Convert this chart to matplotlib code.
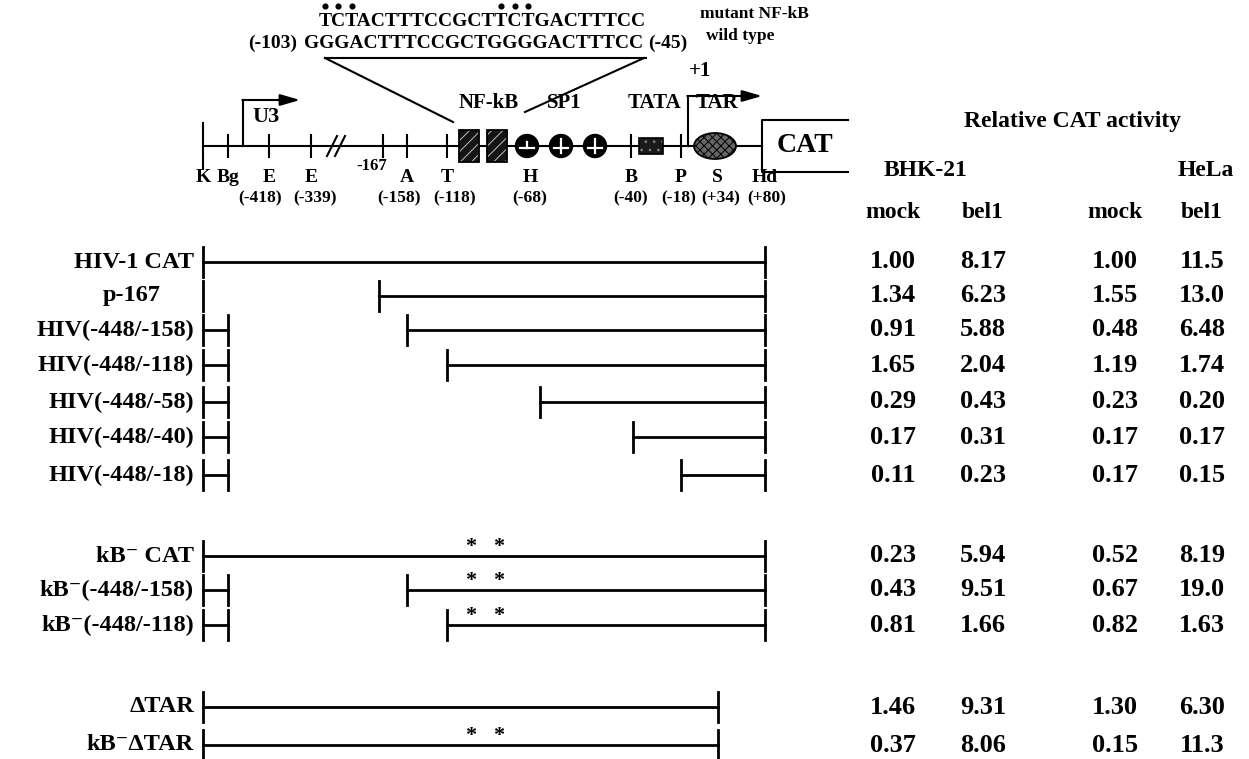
import numpy as np
import matplotlib
matplotlib.use('Agg')
import matplotlib.pyplot as plt
from matplotlib.patches import Rectangle, Circle, Ellipse

plt.rcParams['hatch.linewidth'] = 0.7

# ------------------------------------------------------------------ data
constructs = ['HIV-1 CAT', 'p-167', 'HIV(-448/-158)', 'HIV(-448/-118)',
              'HIV(-448/-58)', 'HIV(-448/-40)', 'HIV(-448/-18)',
              'kB\u207b CAT', 'kB\u207b(-448/-158)', 'kB\u207b(-448/-118)',
              '\u0394TAR', 'kB\u207b\u0394TAR']
# schematic map coordinates (map units along the LTR drawing)
seg_start = [203, 379, 407, 447, 540, 633, 681, 203, 407, 447, 203, 203]
seg_end = [765, 765, 765, 765, 765, 765, 765, 765, 765, 765, 718, 718]
left_piece_end = [None, 203, 228, 228, 228, 228, 228, None, 228, 228, None, None]
kb_mutant = [False] * 7 + [True, True, True, False, True]

bhk_mock = [1.00, 1.34, 0.91, 1.65, 0.29, 0.17, 0.11, 0.23, 0.43, 0.81, 1.46, 0.37]
bhk_bel1 = [8.17, 6.23, 5.88, 2.04, 0.43, 0.31, 0.23, 5.94, 9.51, 1.66, 9.31, 8.06]
hela_mock = [1.00, 1.55, 0.48, 1.19, 0.23, 0.17, 0.17, 0.52, 0.67, 0.82, 1.30, 0.15]
hela_bel1 = [11.5, 13.0, 6.48, 1.74, 0.20, 0.17, 0.15, 8.19, 19.0, 1.63, 6.30, 11.3]

site_labels = ['K', 'Bg', 'E', 'E', 'A', 'T', 'H', 'B', 'P', 'S', 'Hd']
site_coords = ['', '', '(-418)', '(-339)', '(-158)', '(-118)', '(-68)',
               '(-40)', '(-18)', '(+34)', '(+80)']
site_x = [203, 228, 269, 311, 407, 447, 530, 631, 681, 717, 765]
tick_x = [228, 269, 311, 383, 407, 447, 631, 681]
nfkb_x = [469, 497]
sp1_x = [527, 561, 595]
tata_x = 651
tar_x = 715

wt_seq = 'GGGACTTTCCGCTGGGGACTTTCC'
mut_seq = 'TCTACTTTCCGCTTCTGACTTTCC'

# ------------------------------------------------------------------ layout
row_y = [262, 296, 330, 365, 402, 437, 475, 556, 590, 625, 707, 745]
coord_x = [203, 228, 260, 315, 399, 455, 530, 631, 679, 721, 767]
base_y = 146
col_x = [893, 983, 1115, 1202]
SERIF = ['Liberation Serif', 'DejaVu Serif']

fig = plt.figure(figsize=(12.49, 7.59), dpi=100)
ax = fig.add_axes([0, 0, 1, 1])
ax.set_xlim(0, 1249)
ax.set_ylim(759, 0)
ax.axis('off')


def T(x, y, s, size, weight='bold', ha='center', va='center', **kw):
    return ax.text(x, y, s, fontsize=size, fontweight=weight, ha=ha, va=va,
                   family=SERIF, color='black', **kw)


# ---------------------------------------------------------- map (top)
lw_map = 1.5
ax.plot([site_x[0], 762], [base_y, base_y], color='k', lw=lw_map)
ax.plot([site_x[0], site_x[0]], [base_y - 23, base_y + 23], color='k', lw=lw_map)
for x in tick_x:
    ax.plot([x, x], [base_y - 11, base_y + 11], color='k', lw=lw_map)
# break marks
for dx in (0, 8):
    ax.plot([327 + dx, 337 + dx], [base_y + 10, base_y - 10], color='k', lw=lw_map)

# NF-kB boxes
for x in nfkb_x:
    ax.add_patch(Rectangle((x - 10, base_y - 16), 20, 32, fc='0.08', ec='0.75',
                           hatch='///', lw=0, zorder=3))
    ax.add_patch(Rectangle((x - 10, base_y - 16), 20, 32, fill=False, ec='k',
                           lw=1.3, zorder=4))
# SP1 circles
for i, x in enumerate(sp1_x):
    ax.add_patch(Circle((x, base_y), 11.5, fc='k', ec='k', zorder=3))
    ax.plot([x - 7, x + 7], [base_y + 2, base_y + 2], color='white', lw=1.6, zorder=4)
    if i == 0:
        ax.plot([x, x], [base_y - 4, base_y + 2], color='white', lw=1.6, zorder=4)
    else:
        ax.plot([x, x], [base_y - 7, base_y + 7], color='white', lw=1.6, zorder=4)
# TATA box
ax.add_patch(Rectangle((tata_x - 12, base_y - 8), 24, 16, fc='0.1', ec='0.5',
                       hatch='..', lw=0, zorder=3))
ax.add_patch(Rectangle((tata_x - 12, base_y - 8), 24, 16, fill=False, ec='k',
                       lw=1.2, zorder=4))
# TAR ellipse
ax.add_patch(Ellipse((tar_x, base_y), 42, 26, fc='0.4', ec='k', hatch='xxxx',
                     lw=1.3, zorder=3))
# CAT box
ax.plot([848, 762, 762, 848], [base_y - 26, base_y - 26, base_y + 26, base_y + 26],
        color='k', lw=lw_map)
T(805, base_y, 'CAT', 20)

# transcription start arrows
ax.plot([243, 243], [base_y, 100], color='k', lw=lw_map)
ax.annotate('', xy=(300, 100), xytext=(242.3, 100),
            arrowprops=dict(arrowstyle='-|>,head_length=1.2,head_width=0.35',
                            lw=lw_map, color='k', shrinkA=0, shrinkB=0))
ax.plot([688, 688], [base_y, 96], color='k', lw=lw_map)
ax.annotate('', xy=(762, 96), xytext=(687.3, 96),
            arrowprops=dict(arrowstyle='-|>,head_length=1.2,head_width=0.35',
                            lw=lw_map, color='k', shrinkA=0, shrinkB=0))

T(266, 117, 'U3', 16)
T(489, 103, 'NF-kB', 15)
T(564, 103, 'SP1', 15)
T(655, 103, 'TATA', 15)
T(717, 103, 'TAR', 15)
T(700, 71, '+1', 15)

# site labels
for lab, x in zip(site_labels, site_x):
    T(x, 178, lab, 14)
for coord, x in zip(site_coords, coord_x):
    if coord:
        T(x, 198, coord, 12.5)
T(372, 166, '-167', 12)

# sequences
wt = T(474, 43, wt_seq, 14, ha='center')
mt = T(482, 21, mut_seq, 14, ha='center')
T(297, 43, '(-103)', 14, ha='right')
T(648, 43, '(-45)', 14, ha='left')
T(700, 14, 'mutant NF-kB', 12.5, ha='left')
T(706, 36, 'wild type', 12.5, ha='left')
ax.plot([325, 646], [58, 58], color='k', lw=lw_map)
ax.plot([325, 453], [58, 122], color='k', lw=lw_map)
ax.plot([644, 525], [58, 112], color='k', lw=lw_map)

fig.canvas.draw()
r = fig.canvas.get_renderer()
prop = mt.get_fontproperties()
bb = mt.get_window_extent(r)
inv = ax.transData.inverted()


def tw(s):
    return r.get_text_width_height_descent(s, prop, ismath=False)[0]


mut_idx = [i for i, (a, b) in enumerate(zip(wt_seq, mut_seq)) if a != b]
for i in mut_idx:
    cx_disp = bb.x0 + tw(mut_seq[:i]) + tw(mut_seq[i]) / 2
    cx = inv.transform((cx_disp, 0))[0]
    ax.plot(cx, 6, 'o', color='k', ms=3.4)

# ---------------------------------------------------------- constructs
lw_c = 2.0
for i, name in enumerate(constructs):
    y = row_y[i]
    x0, x1 = seg_start[i], seg_end[i]
    ax.plot([x0, x1], [y, y], color='k', lw=lw_c)
    ax.plot([x0, x0], [y - 15, y + 15], color='k', lw=lw_c)
    ax.plot([x1, x1], [y - 15, y + 15], color='k', lw=lw_c)
    le = left_piece_end[i]
    if le is not None:
        ax.plot([site_x[0], site_x[0]], [y - 15, y + 15], color='k', lw=lw_c)
        if le > site_x[0]:
            ax.plot([site_x[0], le], [y, y], color='k', lw=lw_c)
            ax.plot([le, le], [y - 15, y + 15], color='k', lw=lw_c)
    if kb_mutant[i]:
        for x in nfkb_x:
            T(x + 2, y - 9, '*', 16)
    lx = 161 if name == 'p-167' else 194
    T(lx, y, name, 17.5, ha='right')

# ---------------------------------------------------------- table
T(1073, 122, 'Relative CAT activity', 17)
T(926, 171, 'BHK-21', 17)
T(1206, 171, 'HeLa', 17)
for x, lab in zip(col_x, ['mock', 'bel1', 'mock', 'bel1']):
    T(x, 212, lab, 17)


def fmt(v):
    return f'{v:.1f}' if v >= 10 else f'{v:.2f}'


for j, col in enumerate([bhk_mock, bhk_bel1, hela_mock, hela_bel1]):
    for i, v in enumerate(col):
        T(col_x[j], row_y[i], fmt(v), 19)

fig.savefig('out.png', dpi=100)
